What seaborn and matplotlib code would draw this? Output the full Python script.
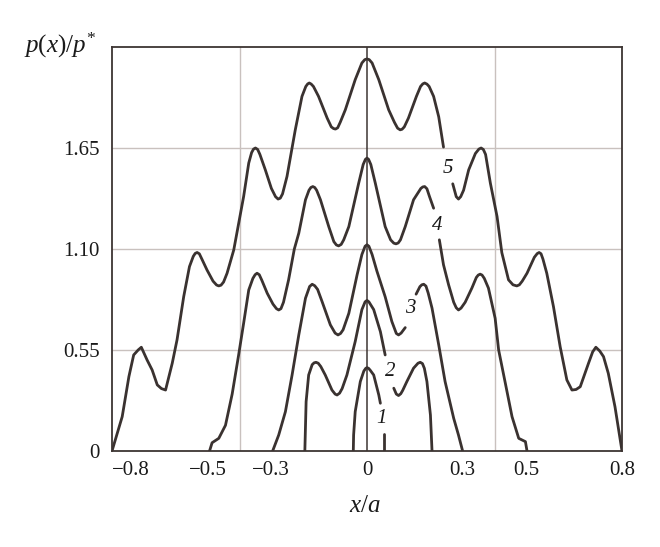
import numpy as np
import pandas as pd
import matplotlib
matplotlib.use("Agg")
import matplotlib.pyplot as plt
import seaborn as sns

sns.set_style("white")
plt.rcParams["font.family"] = ["Liberation Serif", "DejaVu Serif"]
plt.rcParams["mathtext.fontset"] = "custom"
plt.rcParams["mathtext.rm"] = "Liberation Serif"
plt.rcParams["mathtext.it"] = "Liberation Serif:italic"
plt.rcParams["mathtext.bf"] = "Liberation Serif:bold"

nan = np.nan

curve1_x = [-0.043, -0.042, -0.037, -0.021, -0.010, -0.004, 0.0, 0.005, 0.010, 0.021, 0.037, 0.042, nan, 0.052, 0.052]
curve1_y = [0.0, 0.087, 0.214, 0.378, 0.435, 0.450, 0.454, 0.450, 0.440, 0.414, 0.305, 0.26, nan, 0.091, 0.0]

curve2_x = [-0.195, -0.191, -0.183, -0.172, -0.166, -0.160, -0.153, -0.145, -0.131, -0.110,
            -0.100, -0.094, -0.086, -0.078, -0.063, -0.037, -0.016, -0.006, 0.0, 0.006,
            0.021, 0.042, 0.057, nan,
            0.084, 0.092, 0.099, 0.106, 0.112, 0.125, 0.146, 0.160, 0.167, 0.174,
            0.180, 0.188, 0.199, 0.204]
curve2_y = [0.0, 0.269, 0.414, 0.470, 0.480, 0.483, 0.478, 0.460, 0.414, 0.332,
            0.310, 0.305, 0.315, 0.340, 0.414, 0.596, 0.770, 0.812, 0.820, 0.812,
            0.770, 0.650, 0.523, nan,
            0.342, 0.310, 0.302, 0.312, 0.330, 0.378, 0.451, 0.478, 0.483, 0.476,
            0.450, 0.378, 0.196, 0.0]

curve3_x = [-0.296, -0.277, -0.256, -0.235, -0.214, -0.193, -0.180, -0.172, -0.164, -0.155,
            -0.141, -0.115, -0.100, -0.091, -0.083, -0.075, -0.057, -0.031, -0.016, -0.006,
            0.0, 0.006, 0.016, 0.031, 0.057, 0.078, 0.092, 0.099, 0.107, 0.120, nan,
            0.154, 0.166, 0.172, 0.178, 0.185, 0.192, 0.204, 0.225, 0.245, 0.272,
            0.287, 0.300]
curve3_y = [0.0, 0.087, 0.214, 0.414, 0.632, 0.832, 0.896, 0.908, 0.900, 0.880,
            0.814, 0.687, 0.642, 0.632, 0.640, 0.660, 0.750, 0.960, 1.070, 1.115,
            1.123, 1.115, 1.070, 0.980, 0.840, 0.705, 0.640, 0.632, 0.642, 0.672, nan,
            0.854, 0.895, 0.905, 0.908, 0.898, 0.860, 0.778, 0.578, 0.378, 0.178,
            0.087, 0.0]

curve4_x = [-0.494, -0.486, -0.465, -0.444, -0.423, -0.403, -0.387, -0.371, -0.358, -0.351,
            -0.345, -0.338, -0.330, -0.313, -0.295, -0.284, -0.277, -0.270, -0.262, -0.246,
            -0.228, -0.214, -0.193, -0.182, -0.176, -0.170, -0.164, -0.158, -0.146, -0.120,
            -0.104, -0.096, -0.089, -0.081, -0.073, -0.057, -0.026, -0.012, -0.005, 0.0,
            0.005, 0.012, 0.026, 0.057, 0.074, 0.084, 0.091, 0.098, 0.105, 0.120,
            0.146, 0.169, 0.175, 0.181, 0.188, 0.196, 0.209, nan,
            0.227, 0.240, 0.256, 0.272, 0.280, 0.287, 0.295, 0.308, 0.329, 0.343,
            0.349, 0.355, 0.361, 0.368, 0.381, 0.402, 0.413, 0.434, 0.455, 0.476,
            0.497, 0.502]
curve4_y = [0.0, 0.045, 0.069, 0.140, 0.310, 0.520, 0.696, 0.877, 0.940, 0.960,
            0.968, 0.960, 0.930, 0.859, 0.800, 0.775, 0.768, 0.775, 0.810, 0.932,
            1.100, 1.186, 1.368, 1.420, 1.435, 1.440, 1.435, 1.420, 1.368, 1.222,
            1.140, 1.122, 1.117, 1.125, 1.150, 1.222, 1.459, 1.560, 1.588, 1.595,
            1.588, 1.560, 1.459, 1.222, 1.150, 1.132, 1.128, 1.133, 1.150, 1.222,
            1.368, 1.430, 1.438, 1.440, 1.428, 1.386, 1.322, nan,
            1.150, 1.014, 0.905, 0.810, 0.780, 0.768, 0.778, 0.810, 0.887, 0.945,
            0.958, 0.963, 0.958, 0.940, 0.887, 0.723, 0.550, 0.369, 0.187, 0.069,
            0.051, 0.0]

curve5_x = [-0.800, -0.768, -0.747, -0.732, -0.718, -0.708, -0.690, -0.674, -0.658, -0.645,
            -0.632, -0.611, -0.596, -0.575, -0.557, -0.545, -0.539, -0.533, -0.526, -0.518,
            -0.502, -0.483, -0.472, -0.465, -0.458, -0.450, -0.439, -0.418, -0.410, -0.387,
            -0.371, -0.362, -0.356, -0.350, -0.343, -0.336, -0.319, -0.300, -0.287, -0.279,
            -0.272, -0.265, -0.251, -0.225, -0.204, -0.192, -0.186, -0.181, -0.175, -0.168,
            -0.152, -0.125, -0.112, -0.105, -0.099, -0.092, -0.084, -0.068, -0.037, -0.016,
            -0.007, 0.0, 0.007, 0.016, 0.037, 0.068, 0.086, 0.096, 0.104, 0.110,
            0.117, 0.130, 0.155, 0.168, 0.175, 0.181, 0.188, 0.195, 0.209, 0.225,
            0.240, nan,
            0.269, 0.280, 0.287, 0.294, 0.303, 0.319, 0.340, 0.351, 0.358, 0.365,
            0.372, 0.387, 0.408, 0.423, 0.444, 0.458, 0.470, 0.478, 0.487, 0.502,
            0.525, 0.534, 0.540, 0.546, 0.552, 0.564, 0.585, 0.606, 0.627, 0.643,
            0.656, 0.669, 0.695, 0.708, 0.718, 0.730, 0.742, 0.757, 0.778, 0.800]
curve5_y = [0.0, 0.187, 0.405, 0.523, 0.550, 0.565, 0.496, 0.441, 0.360, 0.340,
            0.332, 0.478, 0.605, 0.841, 1.004, 1.060, 1.076, 1.081, 1.074, 1.045,
            0.986, 0.925, 0.904, 0.899, 0.903, 0.920, 0.968, 1.095, 1.170, 1.386,
            1.568, 1.625, 1.644, 1.650, 1.642, 1.615, 1.531, 1.430, 1.385, 1.372,
            1.377, 1.400, 1.495, 1.749, 1.931, 1.985, 1.999, 2.004, 1.998, 1.985,
            1.931, 1.813, 1.765, 1.756, 1.753, 1.760, 1.790, 1.858, 2.022, 2.113,
            2.131, 2.135, 2.131, 2.113, 2.022, 1.858, 1.790, 1.758, 1.749, 1.752,
            1.765, 1.813, 1.931, 1.985, 1.999, 2.004, 1.998, 1.985, 1.931, 1.820,
            1.655, nan,
            1.455, 1.385, 1.372, 1.385, 1.420, 1.531, 1.620, 1.644, 1.650, 1.642,
            1.615, 1.459, 1.277, 1.080, 0.932, 0.905, 0.899, 0.905, 0.925, 0.968,
            1.055, 1.075, 1.081, 1.074, 1.045, 0.968, 0.786, 0.568, 0.387, 0.332,
            0.335, 0.350, 0.478, 0.540, 0.565, 0.545, 0.514, 0.423, 0.241, 0.0]

curve_names = ["1", "2", "3", "4", "5"]
curve_label_x = [0.047, 0.073, 0.136, 0.219, 0.253]
curve_label_y = [0.178, 0.432, 0.774, 1.226, 1.540]

xtick_values = [-0.8, -0.5, -0.3, 0.0, 0.3, 0.5, 0.8]
xtick_labels = ["\u22120.8", "\u22120.5", "\u22120.3", "0", "0.3", "0.5", "0.8"]
ytick_values = [0.0, 0.55, 1.10, 1.65]
ytick_labels = ["0", "0.55", "1.10", "1.65"]

# ---- build long table
all_curves = [(curve1_x, curve1_y), (curve2_x, curve2_y), (curve3_x, curve3_y),
              (curve4_x, curve4_y), (curve5_x, curve5_y)]
rows = []
for name, (xs, ys) in zip(curve_names, all_curves):
    seg = 0
    for x, y in zip(xs, ys):
        if np.isnan(x):
            seg += 1
            continue
        rows.append((name, f"{name}-{seg}", x, y))
df = pd.DataFrame(rows, columns=["curve", "seg", "x", "y"])

LINE = "#3a3230"
FRAME = "#3d3533"
GRID = "#c9c1be"

fig = plt.figure(figsize=(6.6, 5.47), dpi=100)
ax = fig.add_axes([112 / 660, 1 - 451 / 547, 510 / 660, 404 / 547])

for yv in ytick_values[1:]:
    ax.axhline(yv, color=GRID, lw=1.0, zorder=0)
for xv in (-0.4, 0.4):
    ax.axvline(xv, color=GRID, lw=1.0, zorder=0)
ax.axvline(0.0, color=FRAME, lw=1.1, zorder=1)

sns.lineplot(data=df, x="x", y="y", units="seg", estimator=None, sort=False,
             color=LINE, linewidth=2.0, ax=ax, legend=False, zorder=3)

for name, lx, ly in zip(curve_names, curve_label_x, curve_label_y):
    ax.text(lx, ly, name, fontsize=15, style="italic", color="#1a1a1a",
            ha="center", va="center", zorder=4)

ax.set_xlim(-0.8, 0.8)
ax.set_ylim(0, 2.2)
ax.set_xticks(xtick_values)
ax.set_xticklabels(xtick_labels)
ax.set_yticks(ytick_values)
ax.set_yticklabels(ytick_labels)
ax.tick_params(axis="both", length=0, labelsize=15, colors="#1a1a1a")
ax.tick_params(axis="x", pad=7)
ax.tick_params(axis="y", pad=9)
ax.get_xticklabels()[0].set_horizontalalignment("left")

for sp in ax.spines.values():
    sp.set_visible(True)
    sp.set_color(FRAME)
    sp.set_linewidth(1.3)

ax.set_xlabel(r"$x/a$", fontsize=18, color="#1a1a1a", va="center")
ax.xaxis.set_label_coords((365 - 112) / 510, (451 - 506) / 404)
ax.set_ylabel(r"$p\mathrm{(}x\mathrm{)}/p^{*}$", fontsize=18, color="#1a1a1a",
              rotation=0, ha="right", va="baseline")
ax.yaxis.set_label_coords(-16 / 510, (451 - 53) / 404)

fig.savefig("out.png", dpi=100)
